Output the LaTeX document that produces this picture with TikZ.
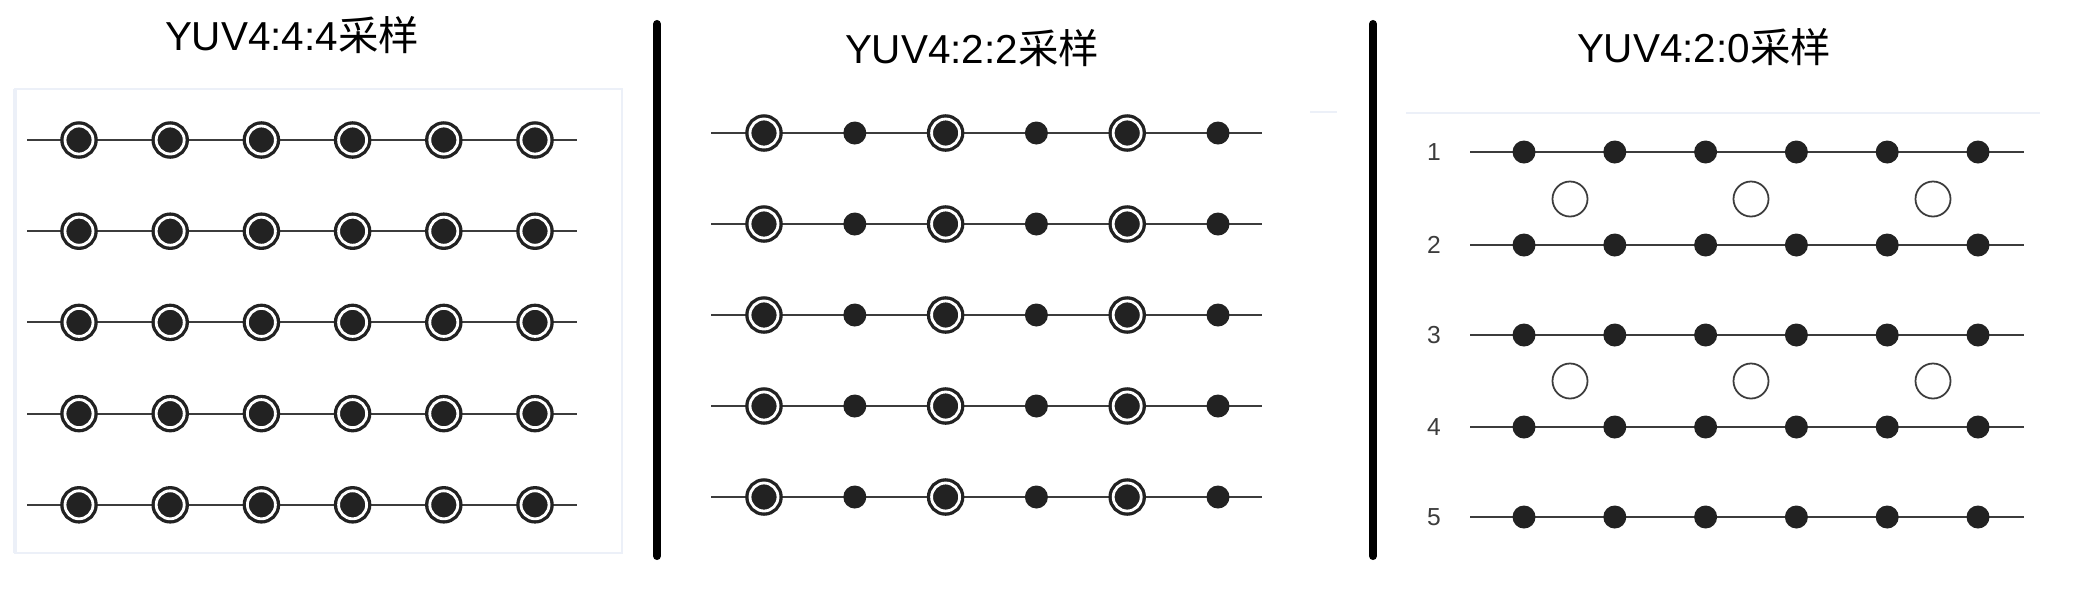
\documentclass[tikz,border=0pt]{standalone}
\usepackage{fontspec}
\setmainfont{Liberation Sans}
\newfontfamily\cjk{Noto Sans CJK SC}
\usepackage{tikz}
\usepackage{xcolor}
\definecolor{dotgray}{RGB}{34,34,34}
\definecolor{linegray}{RGB}{60,60,60}
\definecolor{framegray}{RGB}{236,240,248}
\tikzstyle{fulldot} = [circle, fill=dotgray, draw=dotgray, double=white, double distance=0.8pt, line width=0.95pt, minimum size=0.28cm, inner sep=0pt]
\tikzstyle{ydot} = [circle, fill=dotgray, minimum size=0.23cm, inner sep=0pt]
\tikzstyle{uvdot} = [circle, draw=linegray, fill=white, line width=0.5pt, minimum size=0.35cm, inner sep=0pt]
\tikzstyle{rowline} = [draw=linegray, line width=0.6pt]
\tikzstyle{sepbar} = [draw=black, line width=2.3pt, line cap=round]
\tikzstyle{fancytitle} = [font=\fontsize{11.5pt}{13pt}\selectfont, anchor=base, inner sep=0pt]
\tikzstyle{rowlabel} = [font=\fontsize{7pt}{8pt}\selectfont, text=linegray, inner sep=0pt]

\begin{document}
\begin{tikzpicture}[x=0.01cm, y=-0.01cm]
\useasboundingbox (0,0) rectangle (2084,596);
% YUV 4:4:4
\draw[framegray, line width=0.8pt] (15,89) rectangle (622,553);
\draw[framegray, line width=1.4pt] (15,89) -- (15,553);
\node[fancytitle] (t444) at (292,50) {YUV4:4:4{\cjk 采样}};
\foreach \r in {0,...,4} {
  \coordinate (a\r-w) at (27,140+91.2*\r);
  \coordinate (a\r-e) at (577,140+91.2*\r);
  \draw[rowline] (a\r-w) -- (a\r-e);
  \foreach \c in {0,...,5}
    \node[fulldot] (a\r-\c) at (79+91.2*\c,140+91.2*\r) {};
}
\draw[sepbar] (657,24) -- (657,556);
% YUV 4:2:2
\node[fancytitle] (t422) at (972,63) {YUV4:2:2{\cjk 采样}};
\draw[framegray, line width=0.8pt] (1310,112) -- (1337,112);
\foreach \r in {0,...,4} {
  \coordinate (b\r-w) at (711,133+91*\r);
  \coordinate (b\r-e) at (1262,133+91*\r);
  \draw[rowline] (b\r-w) -- (b\r-e);
  \foreach \c in {0,2,4}
    \node[fulldot] (b\r-\c) at (764+90.8*\c,133+91*\r) {};
  \foreach \c in {1,3,5}
    \node[ydot] (b\r-\c) at (764+90.8*\c,133+91*\r) {};
}
\draw[sepbar] (1373,24) -- (1373,556);
% YUV 4:2:0
\node[fancytitle] (t420) at (1704,62) {YUV4:2:0{\cjk 采样}};
\draw[framegray, line width=0.8pt] (1406,113) -- (2040,113);
\foreach \r/\y in {1/152,2/245,3/335,4/427,5/517} {
  \node[rowlabel] (n\r) at (1434,\y) {\r};
  \coordinate (c\r-w) at (1470,\y);
  \coordinate (c\r-e) at (2024,\y);
  \draw[rowline] (c\r-w) -- (c\r-e);
  \foreach \c in {0,...,5}
    \node[ydot] (c\r-\c) at (1524+90.8*\c,\y) {};
}
\foreach \r/\y in {1/199,2/381}
  \foreach \c/\x in {1/1570,2/1751,3/1933}
    \node[uvdot] (uv\r-\c) at (\x,\y) {};
\end{tikzpicture}
\end{document}
